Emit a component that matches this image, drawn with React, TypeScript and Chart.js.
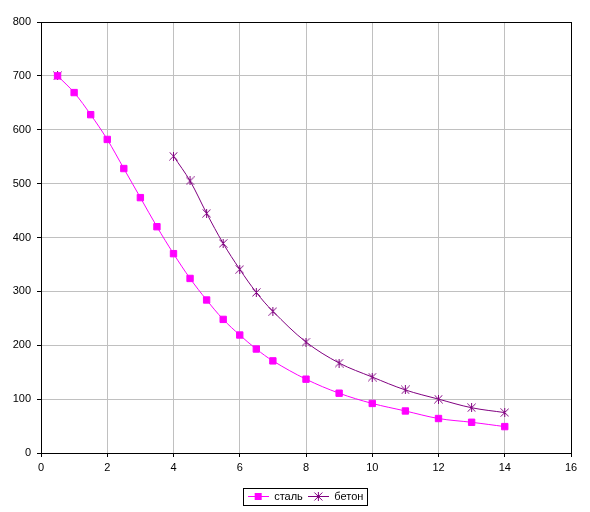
import React, { useEffect, useRef } from "react";
import { Chart, registerables } from "chart.js";
Chart.register(...registerables);

const steelX = [0.5, 1, 1.5, 2, 2.5, 3, 3.5, 4, 4.5, 5, 5.5, 6, 6.5, 7, 8, 9, 10, 11, 12, 13, 14];
const steelY = [700, 669, 628, 582, 528, 474, 420, 370, 324, 284, 248, 219, 193, 171, 137, 111, 92, 78, 64, 57, 49];
const betonX = [0.5, 2, 4, 4.5, 5, 5.5, 6, 6.5, 7, 8, 9, 10, 11, 12, 13, 14];
const betonY = [700, null, 551, 505, 445, 389, 341, 298, 263, 206, 167, 141, 117, 100, 84, 75];
const seriesNames = ["сталь", "бетон"];
const xTicks = { min: 0, max: 16, step: 2 };
const yTicks = { min: 0, max: 800, step: 100 };

const STEEL = "#FF00FF";
const BETON = "#800080";
const FONT = "Arial, 'Liberation Sans', sans-serif";
const LEGEND_PAD = 5;

function makeMarker(kind: string, color: string, withLine: boolean) {
  const w = withLine ? 21 : 9;
  const h = 9;
  const c = document.createElement("canvas");
  c.width = w;
  c.height = h;
  const ctx = c.getContext("2d")!;
  const cx = w / 2;
  const cy = h / 2;
  ctx.strokeStyle = color;
  ctx.fillStyle = color;
  ctx.lineWidth = 1;
  if (withLine) {
    ctx.beginPath();
    ctx.moveTo(0, cy);
    ctx.lineTo(w, cy);
    ctx.stroke();
  }
  if (kind === "square") {
    ctx.fillRect(cx - 3.5, cy - 3.5, 7, 7);
  } else {
    ctx.beginPath();
    ctx.moveTo(cx - 4, cy - 4);
    ctx.lineTo(cx + 4, cy + 4);
    ctx.moveTo(cx + 4, cy - 4);
    ctx.lineTo(cx - 4, cy + 4);
    ctx.moveTo(cx, cy - 4.5);
    ctx.lineTo(cx, cy + 4.5);
    ctx.stroke();
  }
  return c;
}

const framePlugin = {
  id: "frame",
  beforeDraw(chart: any) {
    const lg = chart.legend;
    if (lg) lg.left = 40;
  },
  afterDraw(chart: any) {
    const { ctx, chartArea: a } = chart;
    ctx.save();
    ctx.strokeStyle = "#000";
    ctx.lineWidth = 1;
    ctx.strokeRect(Math.round(a.left) + 0.5, Math.round(a.top) + 0.5, Math.round(a.right - a.left), Math.round(a.bottom - a.top));
    const lg = chart.legend;
    if (lg && lg.lineWidths && lg.lineWidths.length) {
      const lw = lg.lineWidths[0];
      const x0 = (lg.left + LEGEND_PAD + lg.right - lw) / 2;
      const x1 = x0 + lw - LEGEND_PAD;
      const t = lg.top + LEGEND_PAD;
      ctx.strokeRect(Math.round(x0 - 5) + 0.5, Math.round(t - 3) + 0.5, Math.round(x1 - x0 + 8), 17);
    }
    ctx.restore();
  },
};

export default function App() {
  const ref = useRef<HTMLCanvasElement>(null);
  useEffect(() => {
    const betonPt = makeMarker("star", BETON, false);
    const steelLeg = makeMarker("square", STEEL, true);
    const betonLeg = makeMarker("star", BETON, true);
    Chart.defaults.font.family = FONT;
    Chart.defaults.font.size = 11;
    Chart.defaults.color = "#000";
    const chart = new Chart(ref.current!, {
      type: "line",
      data: {
        datasets: [
          {
            label: seriesNames[0],
            data: steelX.map((x, i) => ({ x, y: steelY[i] })),
            borderColor: STEEL,
            backgroundColor: STEEL,
            borderWidth: 1,
            pointStyle: "rect",
            pointRadius: 4.5,
            pointBorderWidth: 1,
            pointBackgroundColor: STEEL,
            pointBorderColor: STEEL,
            tension: 0.35,
            spanGaps: false,
          },
          {
            label: seriesNames[1],
            data: betonX.map((x, i) => ({ x, y: betonY[i] })) as any,
            borderColor: BETON,
            backgroundColor: BETON,
            borderWidth: 1,
            pointStyle: betonPt as any,
            pointRadius: 4.5,
            tension: 0.35,
            spanGaps: false,
          },
        ],
      },
      options: {
        responsive: false,
        animation: false,
        layout: { padding: { left: 0, right: 19, top: 22, bottom: 0 } },
        scales: {
          x: {
            type: "linear",
            min: xTicks.min,
            max: xTicks.max,
            afterFit: (s: any) => { s.height = 33; },
            ticks: { stepSize: xTicks.step, padding: 4, color: "#000", font: { size: 11, family: FONT } },
            grid: { color: "#c0c0c0", tickColor: "#000", tickLength: 4, lineWidth: 1 },
            border: { color: "#000", width: 1 },
          },
          y: {
            type: "linear",
            min: yTicks.min,
            max: yTicks.max,
            afterFit: (s: any) => { s.width = 41; },
            ticks: { stepSize: yTicks.step, padding: 6, color: "#000", font: { size: 11, family: FONT } },
            grid: { color: "#c0c0c0", tickColor: "#000", tickLength: 4, lineWidth: 1 },
            border: { color: "#000", width: 1 },
          },
        },
        plugins: {
          tooltip: { enabled: false },
          legend: {
            position: "bottom",
            labels: {
              usePointStyle: true,
              pointStyleWidth: 21,
              padding: LEGEND_PAD,
              color: "#000",
              font: { size: 11, family: FONT },
              generateLabels: (c: any) => {
                const items = Chart.defaults.plugins.legend.labels.generateLabels(c);
                items.forEach((it: any, i: number) => {
                  it.pointStyle = i === 0 ? steelLeg : betonLeg;
                });
                return items;
              },
            },
          },
        },
      },
      plugins: [framePlugin],
    });
    return () => chart.destroy();
  }, []);
  return (
    <div style={{ position: "absolute", left: 0, top: 0, width: 590, height: 512, background: "#fff" }}>
      <canvas ref={ref} width={590} height={512} />
    </div>
  );
}
